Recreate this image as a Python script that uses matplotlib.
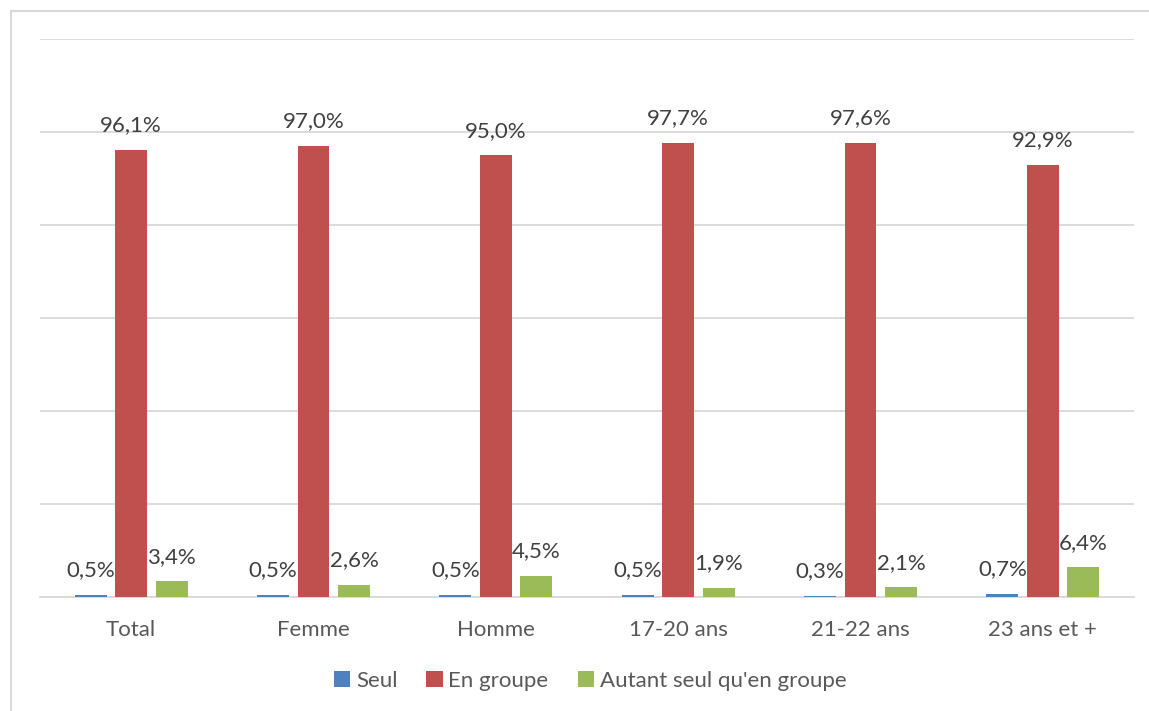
import numpy as np
import matplotlib.pyplot as plt
from matplotlib.lines import Line2D

# "Seul / En groupe" chart

categories = ['Total', 'Femme', 'Homme', '17-20 ans', '21-22 ans', '23 ans et +']
seul = [0.5, 0.5, 0.5, 0.5, 0.3, 0.7]
en_groupe = [96.1, 97.0, 95.0, 97.7, 97.6, 92.9]
autant = [3.4, 2.6, 4.5, 1.9, 2.1, 6.4]

series = [('Seul', seul, '#4F81BD'),
          ('En groupe', en_groupe, '#C0504D'),
          ('Autant seul qu\'en groupe', autant, '#9BBB59')]

plt.rcParams['font.family'] = ['Lato', 'DejaVu Sans']

fig = plt.figure(figsize=(11.49, 7.11), dpi=100)
ax = fig.add_axes([40/1149, 1 - 597/711, (1134 - 40)/1149, (597 - 39)/711])

x = np.arange(len(categories))
w = 0.175
offsets = [-0.222, 0, 0.222]

for (name, vals, col), off in zip(series, offsets):
    bars = ax.bar(x + off, vals, w, color=col, label=name, zorder=3)
    for b, v in zip(bars, vals):
        ax.annotate(f'{v:.1f}%'.replace('.', ','),
                    (b.get_x() + b.get_width()/2, b.get_height()),
                    xytext=(0, 10.5), textcoords='offset points',
                    ha='center', va='bottom', fontsize=16, color='#404040')

ax.set_xlim(-0.5, len(categories) - 0.5)
ax.set_ylim(0, 120)
ax.set_yticks(np.arange(0, 121, 20))
ax.yaxis.grid(True, color='#d9d9d9', linewidth=1.3, zorder=0)
ax.tick_params(axis='y', left=False, labelleft=False)
ax.tick_params(axis='x', bottom=False, labelsize=16, labelcolor='#595959', pad=13)
ax.set_xticks(x)
ax.set_xticklabels(categories)
for s in ['top', 'right', 'left']:
    ax.spines[s].set_visible(False)
ax.spines['bottom'].set_color('#d9d9d9')
ax.spines['bottom'].set_linewidth(1.3)

leg = fig.legend(loc='center', bbox_to_anchor=(590/1149, 1 - 681/711), ncol=3,
                 frameon=False, fontsize=16, handlelength=0.75, handleheight=0.75,
                 handletextpad=0.25, columnspacing=1.3)
for t in leg.get_texts():
    t.set_color('#595959')

# chart frame (top and left edges visible in the reference)
fig.add_artist(Line2D([11/1149, 1], [1 - 11/711, 1 - 11/711], color='#d9d9d9', lw=1.5))
fig.add_artist(Line2D([11/1149, 11/1149], [0, 1 - 11/711], color='#d9d9d9', lw=1.5))

plt.savefig('out.png', dpi=100)
